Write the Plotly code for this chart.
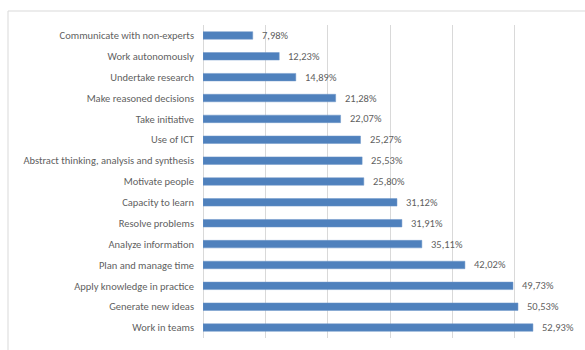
import plotly.graph_objects as go

categories = [
    "Communicate with non-experts",
    "Work autonomously",
    "Undertake research",
    "Make reasoned decisions",
    "Take initiative",
    "Use of ICT",
    "Abstract thinking, analysis and synthesis",
    "Motivate people",
    "Capacity to learn",
    "Resolve problems",
    "Analyze information",
    "Plan and manage time",
    "Apply knowledge in practice",
    "Generate new ideas",
    "Work in teams",
]
values = [7.98, 12.23, 14.89, 21.28, 22.07, 25.27, 25.53, 25.80, 31.12, 31.91,
          35.11, 42.02, 49.73, 50.53, 52.93]
labels = [f"{v:.2f}%".replace(".", ",") for v in values]

FONT = "Carlito, Lato, sans-serif"
GREY = "#5f5f5f"
FS = 10.5

fig = go.Figure()
fig.add_trace(go.Bar(
    x=[v / 100 for v in values],
    y=categories,
    orientation="h",
    marker=dict(color="#4f81bd", line=dict(color="#6f97c8", width=0.5)),
    width=0.36,
    hoverinfo="skip",
))

for c, v, t in zip(categories, values, labels):
    fig.add_annotation(x=v / 100, y=c, text=t, showarrow=False,
                       xanchor="left", xshift=7,
                       font=dict(family=FONT, size=FS, color=GREY))

W, H = 585, 350
L, R, T, B = 203, 8, 25, 12
pw, ph = W - L - R, H - T - B

fig.add_shape(type="rect", xref="paper", yref="paper",
              x0=(8 - L) / pw, x1=(W + 5 - L) / pw,
              y0=-(B + 5) / ph, y1=1 + (T - 11) / ph,
              line=dict(color="#d9d9d9", width=1), layer="below")

fig.update_layout(
    width=W, height=H,
    margin=dict(l=L, r=R, t=T, b=B, autoexpand=False),
    paper_bgcolor="white", plot_bgcolor="white",
    showlegend=False,
    font=dict(family=FONT, size=FS, color=GREY),
    xaxis=dict(range=[0, 0.6], dtick=0.1, showticklabels=False,
               showgrid=True, gridcolor="#d9d9d9", gridwidth=1,
               zeroline=True, zerolinecolor="#d9d9d9", zerolinewidth=1,
               fixedrange=True, automargin=False),
    yaxis=dict(autorange="reversed", showgrid=False, ticks="",
               ticklabelstandoff=8, automargin=False,
               tickfont=dict(family=FONT, size=FS, color=GREY)),
)

fig.write_html("out.html")
